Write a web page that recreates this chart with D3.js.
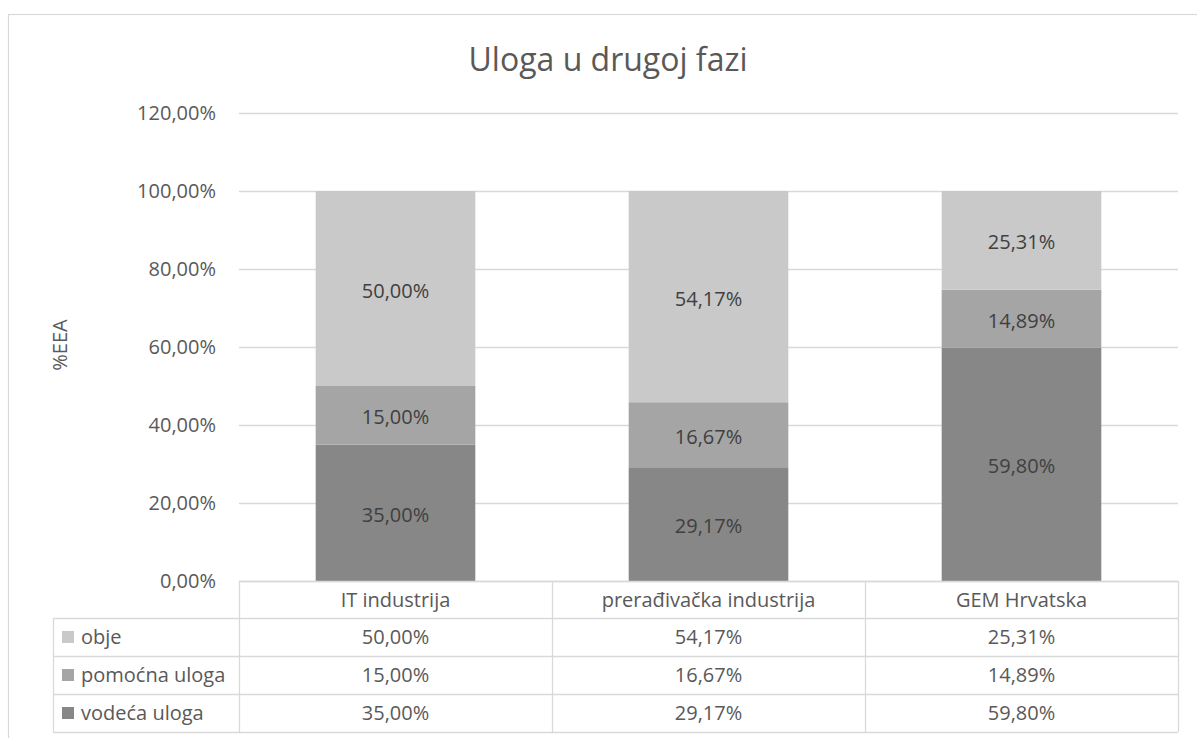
<!DOCTYPE html>
<html>
<head>
<meta charset="utf-8">
<script src="https://cdn.jsdelivr.net/npm/d3@7"></script>
<style>
  html, body { margin: 0; padding: 0; background: #fff; }
  svg { display: block; font-family: "Open Sans", sans-serif; }
</style>
</head>
<body>
<svg id="chart" width="1197" height="738"></svg>
<script>
const title = "Uloga u drugoj fazi";
const yAxisTitle = "%EEA";
const categories = ["IT industrija", "prerađivačka industrija", "GEM Hrvatska"];
const seriesNames = ["vodeća uloga", "pomoćna uloga", "obje"];
const vodeca = [35.00, 29.17, 59.80];
const pomocna = [15.00, 16.67, 14.89];
const obje = [50.00, 54.17, 25.31];
const yTicks = [0, 20, 40, 60, 80, 100, 120];
const seriesColors = ["#878787", "#a5a5a5", "#c9c9c9"];

const seriesValues = [vodeca, pomocna, obje];
const fmt = v => d3.format(".2f")(v).replace(".", ",") + "%";
const textColor = "#595959";
const lineColor = "#d9d9d9";
const fs = 20;

const svg = d3.select("#chart");

// outer chart border
svg.append("rect").attr("x", 8.5).attr("y", 14.5).attr("width", 1300).attr("height", 800)
  .attr("fill", "#fff").attr("stroke", lineColor).attr("stroke-width", 1.2);

const plotLeft = 239, plotRight = 1178, plotTop = 113, plotBottom = 581;

const x = d3.scaleBand().domain(categories).range([plotLeft, plotRight])
  .paddingInner(0.49).paddingOuter(0.245);
const y = d3.scaleLinear().domain([0, 120]).range([plotBottom, plotTop]);

// gridlines
svg.append("g").selectAll("line").data(yTicks).join("line")
  .attr("x1", plotLeft).attr("x2", plotRight)
  .attr("y1", d => Math.round(y(d)) + 0.5).attr("y2", d => Math.round(y(d)) + 0.5)
  .attr("stroke", lineColor).attr("stroke-width", 1.3);

// y tick labels
svg.append("g").selectAll("text").data(yTicks).join("text")
  .attr("x", 216).attr("y", d => y(d)).attr("dy", "0.35em")
  .attr("text-anchor", "end").attr("fill", textColor).attr("font-size", fs)
  .text(d => fmt(d));

// y axis title
svg.append("text")
  .attr("transform", `translate(67,${(plotTop + plotBottom) / 2 - 2}) rotate(-90)`)
  .attr("text-anchor", "middle").attr("fill", textColor).attr("font-size", fs)
  .text(yAxisTitle);

// title
svg.append("text").attr("x", 608).attr("y", 71)
  .attr("text-anchor", "middle").attr("fill", textColor).attr("font-size", 32)
  .text(title);

// stacked data
const rows = categories.map((c, i) => {
  const o = { cat: c };
  seriesNames.forEach((s, j) => o[s] = seriesValues[j][i]);
  return o;
});
const stack = d3.stack().keys(seriesNames)(rows);

const layers = svg.append("g").selectAll("g").data(stack).join("g")
  .attr("fill", (d, i) => seriesColors[i]);
layers.selectAll("rect").data(d => d).join("rect")
  .attr("x", d => x(d.data.cat))
  .attr("width", x.bandwidth())
  .attr("y", d => y(d[1]))
  .attr("height", d => y(d[0]) - y(d[1]));

// data labels
const labels = svg.append("g");
stack.forEach((layer, i) => {
  labels.selectAll(null).data(layer).join("text")
    .attr("x", d => x(d.data.cat) + x.bandwidth() / 2)
    .attr("y", d => (y(d[0]) + y(d[1])) / 2 + 2)
    .attr("dy", "0.35em")
    .attr("text-anchor", "middle").attr("fill", "#404040").attr("font-size", fs)
    .text(d => fmt(d[1] - d[0]));
});

// data table
const tableLeft = 53;
const headerTop = plotBottom, headerBottom = 618, rowH = 38;
const tableRows = [2, 1, 0]; // obje, pomoćna, vodeća
const tableBottom = headerBottom + rowH * tableRows.length;
const tg = svg.append("g").attr("stroke", lineColor).attr("stroke-width", 1.3);

// horizontal lines
tg.append("line").attr("x1", plotLeft).attr("x2", plotRight)
  .attr("y1", headerTop + 0.5).attr("y2", headerTop + 0.5);
d3.range(tableRows.length + 1).forEach(k => {
  const yy = headerBottom + k * rowH + 0.5;
  tg.append("line").attr("x1", tableLeft).attr("x2", plotRight).attr("y1", yy).attr("y2", yy);
});
// vertical lines
tg.append("line").attr("x1", tableLeft + 0.5).attr("x2", tableLeft + 0.5)
  .attr("y1", headerBottom).attr("y2", tableBottom);
const colEdges = [plotLeft, ...categories.map(c => x(c) - x.step() * x.paddingInner() / 2 + x.step())];
colEdges.forEach(cx => {
  tg.append("line").attr("x1", Math.round(cx) + 0.5).attr("x2", Math.round(cx) + 0.5)
    .attr("y1", headerTop).attr("y2", tableBottom);
});

// header text
svg.append("g").selectAll("text").data(categories).join("text")
  .attr("x", d => x(d) + x.bandwidth() / 2).attr("y", (headerTop + headerBottom) / 2)
  .attr("dy", "0.35em").attr("text-anchor", "middle")
  .attr("fill", textColor).attr("font-size", fs).text(d => d);

// rows
tableRows.forEach((si, r) => {
  const cy = headerBottom + r * rowH + rowH / 2;
  svg.append("rect").attr("x", 62).attr("y", cy - 6).attr("width", 12).attr("height", 12)
    .attr("fill", seriesColors[si]);
  svg.append("text").attr("x", 81).attr("y", cy).attr("dy", "0.35em")
    .attr("fill", textColor).attr("font-size", fs).text(seriesNames[si]);
  svg.append("g").selectAll("text").data(categories).join("text")
    .attr("x", d => x(d) + x.bandwidth() / 2).attr("y", cy).attr("dy", "0.35em")
    .attr("text-anchor", "middle").attr("fill", textColor).attr("font-size", fs)
    .text((d, i) => fmt(seriesValues[si][i]));
});
</script>
</body>
</html>
